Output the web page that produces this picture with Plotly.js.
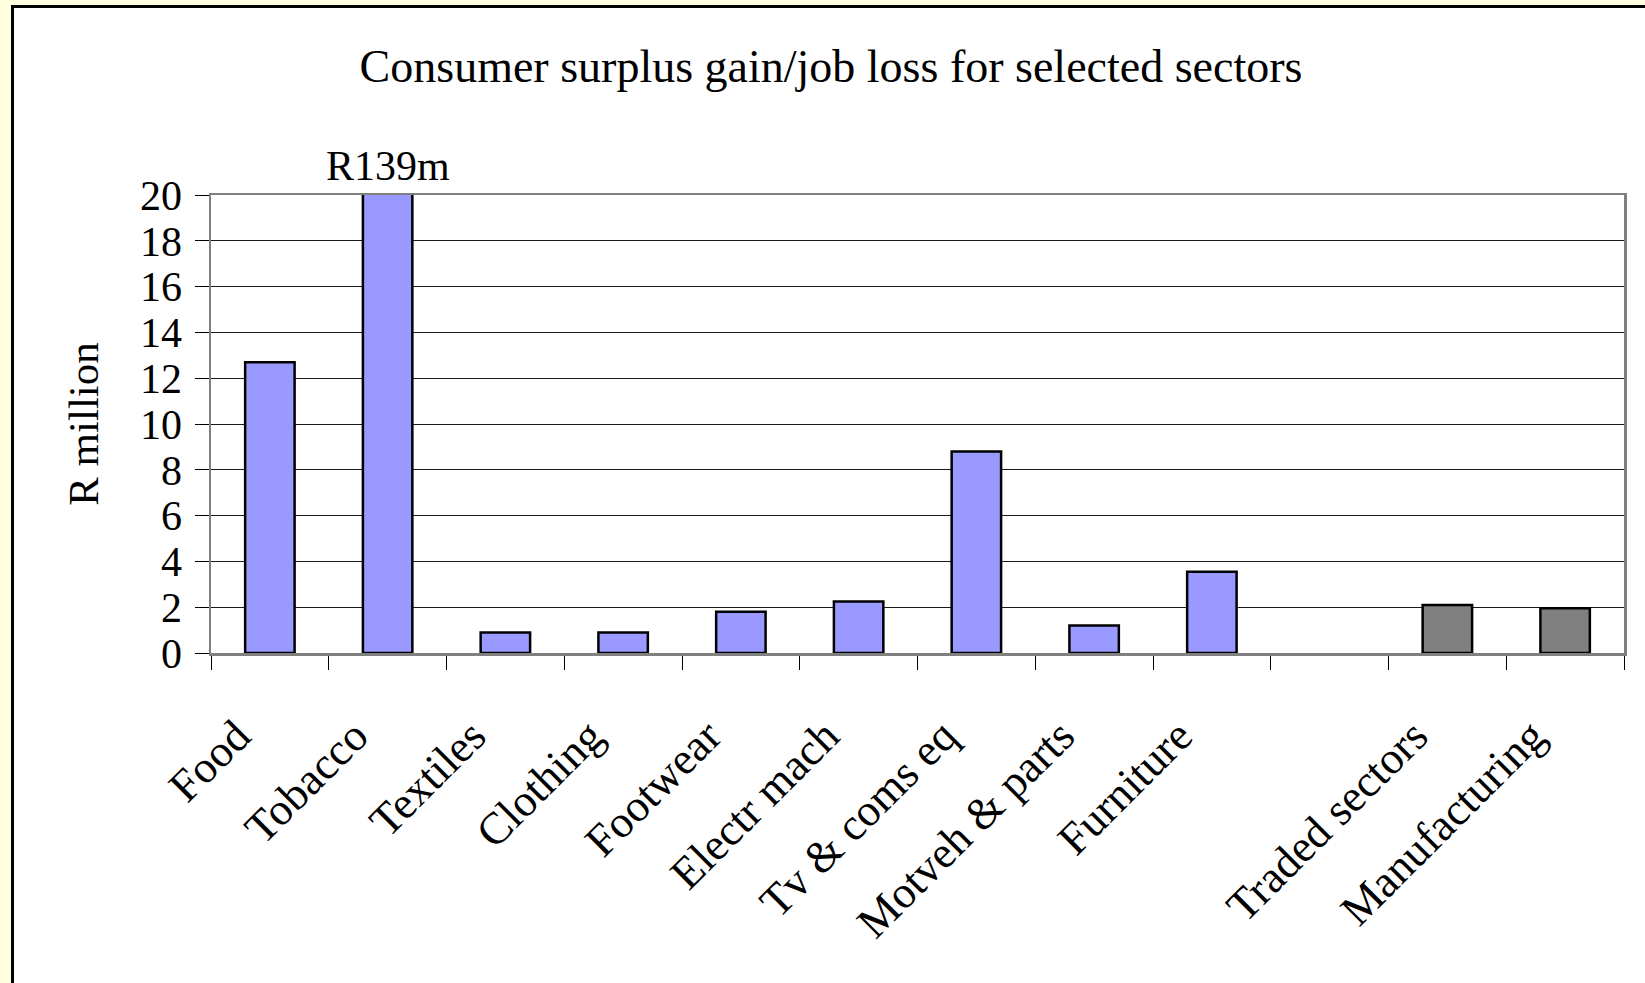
<!DOCTYPE html>
<html>
<head>
<meta charset="utf-8">
<script src="https://cdn.plot.ly/plotly-3.0.1.min.js"></script>
<style>
  html, body { margin: 0; padding: 0; width: 1645px; height: 983px; overflow: hidden; background: #FFFFE0; }
  #frame { position: absolute; left: 11px; top: 5px; width: 1700px; height: 1100px; border: 3px solid #000; background: #fff; overflow: hidden; }
  #chart { width: 1634px; height: 978px; }
</style>
</head>
<body>
<div id="frame"><div id="chart"></div></div>
<script>
// Data (R million)
const titleText = 'Consumer surplus gain/job loss for selected sectors';
const yTitle = 'R million';
const sectors = ['Food', 'Tobacco', 'Textiles', 'Clothing', 'Footwear', 'Electr mach', 'Tv & coms eq', 'Motveh & parts', 'Furniture'];
const sectorValues = [12.7, 139, 0.9, 0.9, 1.8, 2.25, 8.8, 1.2, 3.55];
const spacer = [' '];
const aggregates = ['Traded sectors', 'Manufacturing'];
const aggregateValues = [2.1, 1.95];
const yTicks = [0, 2, 4, 6, 8, 10, 12, 14, 16, 18, 20];
const yMax = 20;
const allCategories = sectors.concat(spacer, aggregates);

// Tallest bar value, labelled above the clipped bar
const maxIdx = sectorValues.indexOf(Math.max(...sectorValues));
const overflowLabel = 'R' + sectorValues[maxIdx] + 'm';

const serif = 'Liberation Serif, Times New Roman, serif';

const traces = [
  {
    type: 'bar',
    x: sectors,
    y: sectorValues,
    width: 0.42,
    marker: { color: '#9999FF', line: { color: '#000000', width: 2.5 } },
    hoverinfo: 'x+y'
  },
  {
    type: 'bar',
    x: aggregates,
    y: aggregateValues,
    width: 0.42,
    marker: { color: '#808080', line: { color: '#000000', width: 2.5 } },
    hoverinfo: 'x+y'
  }
];

const layout = {
  width: 1634,
  height: 978,
  paper_bgcolor: '#FFFFFF',
  plot_bgcolor: '#FFFFFF',
  showlegend: false,
  barmode: 'overlay',
  margin: { l: 197, r: 24, t: 187, b: 333 },
  font: { family: serif, color: '#000000' },
  title: {
    text: titleText,
    font: { family: serif, size: 46, color: '#000000' },
    x: 0.5, xanchor: 'center',
    y: 1 - 58 / 978, yref: 'container', yanchor: 'middle'
  },
  xaxis: {
    type: 'category',
    categoryorder: 'array',
    categoryarray: allCategories,
    range: [-0.5, allCategories.length - 0.5],
    tickson: 'boundaries',
    ticks: 'outside',
    ticklen: 14,
    tickwidth: 1,
    tickcolor: '#000000',
    tickangle: -45,
    tickfont: { family: serif, size: 45, color: '#000000' },
    ticklabelstandoff: 36,
    ticklabelshift: -33,
    showline: true,
    linecolor: '#808080',
    linewidth: 2.5,
    mirror: true,
    showgrid: false,
    zeroline: false,
    fixedrange: true
  },
  yaxis: {
    range: [0, yMax],
    tickvals: yTicks,
    ticks: 'outside',
    ticklen: 14,
    tickwidth: 1,
    tickcolor: '#000000',
    tickfont: { family: serif, size: 42, color: '#000000' },
    ticklabelstandoff: 4,
    showline: true,
    linecolor: '#808080',
    linewidth: 2.5,
    mirror: true,
    showgrid: true,
    gridcolor: '#1a1a1a',
    gridwidth: 1,
    zeroline: false,
    fixedrange: true,
    title: { text: yTitle, font: { family: serif, size: 43, color: '#000000' }, standoff: 28 }
  },
  annotations: [
    {
      x: sectors[maxIdx], y: yMax, xref: 'x', yref: 'y',
      text: overflowLabel, showarrow: false,
      xanchor: 'center', yanchor: 'bottom', yshift: 4,
      font: { family: serif, size: 42, color: '#000000' }
    }
  ]
};

Plotly.newPlot('chart', traces, layout, { displayModeBar: false, staticPlot: true });
</script>
</body>
</html>
